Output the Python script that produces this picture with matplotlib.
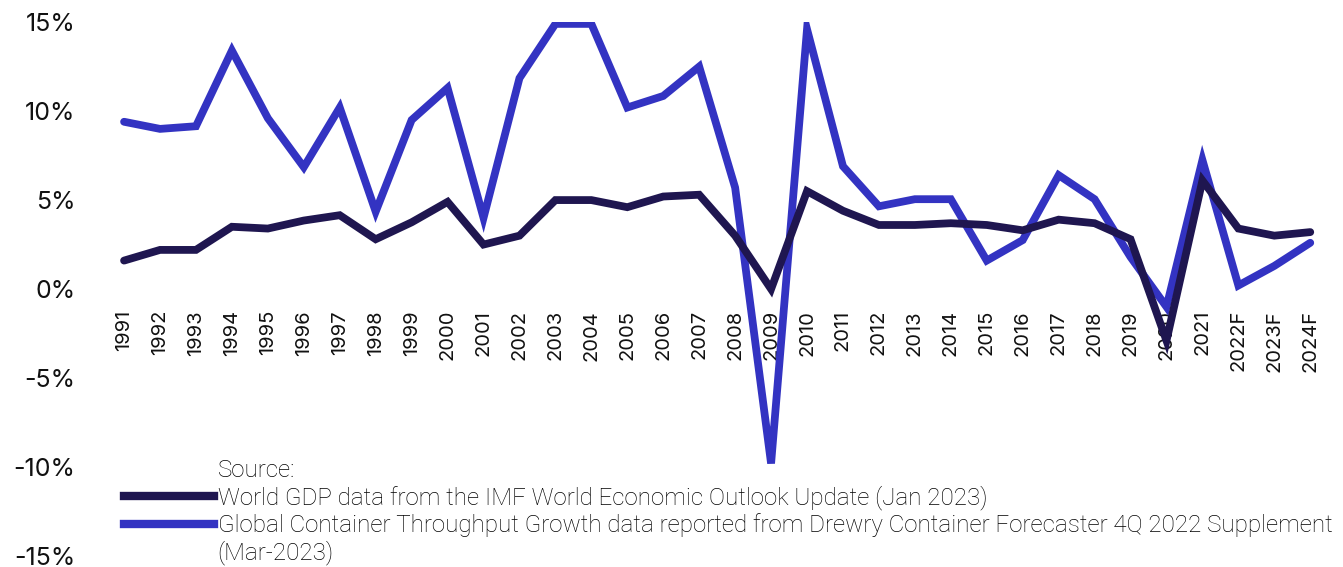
import matplotlib
matplotlib.use("Agg")
import matplotlib.pyplot as plt
from matplotlib.lines import Line2D

years = ['1991', '1992', '1993', '1994', '1995', '1996', '1997', '1998', '1999', '2000',
         '2001', '2002', '2003', '2004', '2005', '2006', '2007', '2008', '2009', '2010',
         '2011', '2012', '2013', '2014', '2015', '2016', '2017', '2018', '2019', '2020',
         '2021', '2022F', '2023F', '2024F']

# World GDP growth (%)
gdp = [1.6, 2.2, 2.2, 3.5, 3.4, 3.85, 4.15, 2.8, 3.75, 4.9,
       2.5, 3.0, 5.0, 5.0, 4.6, 5.2, 5.3, 3.0, 0.0, 5.5,
       4.4, 3.6, 3.6, 3.7, 3.6, 3.3, 3.9, 3.7, 2.8, -2.9,
       6.1, 3.4, 3.0, 3.2]

# Global container throughput growth (%)
container = [9.4, 9.0, 9.15, 13.4, 9.6, 6.85, 10.2, 4.35, 9.5, 11.3,
             4.0, 11.85, 14.9, 14.9, 10.2, 10.85, 12.5, 5.7, -9.8, 14.6,
             6.9, 4.65, 5.05, 5.05, 1.6, 2.75, 6.4, 5.05, 1.8, -1.0,
             7.25, 0.2, 1.3, 2.6]

yticks = [-15, -10, -5, 0, 5, 10, 15]

gdp_color = '#1f1650'
box_color = '#3333c2'

fig = plt.figure(figsize=(13.43, 5.67), dpi=100)
ax = fig.add_axes([0.079, 0.0194, 0.91, 0.9416])

# move the x axis to y=0 first (this resets tick label settings)
ax.spines['bottom'].set_position(('data', 0))
for s in ax.spines.values():
    s.set_visible(False)

x = list(range(len(years)))
ax.plot(x, container, color=box_color, lw=5.6, solid_joinstyle='miter', solid_capstyle='round', zorder=2)
ax.plot(x, gdp, color=gdp_color, lw=5.6, solid_joinstyle='miter', solid_capstyle='round', zorder=3)

ax.set_xlim(-0.5, len(years) - 0.5)
ax.set_ylim(-15, 15)
ax.set_yticks(yticks)
ax.set_yticklabels([f'{v}%' for v in yticks], fontsize=18, family='Inter', color='#111111')
ax.set_xticks(x)
ax.set_xticklabels(years, rotation=90, fontsize=14.5, family='Inter', color='#111111', va='top', ha='center')
ax.tick_params(axis='y', length=0, pad=22)
ax.tick_params(axis='x', length=0, pad=15)

handles = [Line2D([], [], color='none'),
           Line2D([], [], color=gdp_color, lw=6),
           Line2D([], [], color=box_color, lw=6),
           Line2D([], [], color='none')]
labels = ['Source:',
          'World GDP data from the IMF World Economic Outlook Update (Jan 2023)',
          'Global Container Throughput Growth data reported from Drewry Container Forecaster 4Q 2022 Supplement',
          '(Mar-2023)']
leg = fig.legend(handles, labels, loc='lower left', bbox_to_anchor=(0.0765, -0.035),
                 frameon=False, handlelength=3.7, handletextpad=0.15, labelspacing=0.13,
                 prop={'family': 'Roboto', 'weight': 'light', 'size': 17.4})

fig.savefig('out.png', dpi=100)
